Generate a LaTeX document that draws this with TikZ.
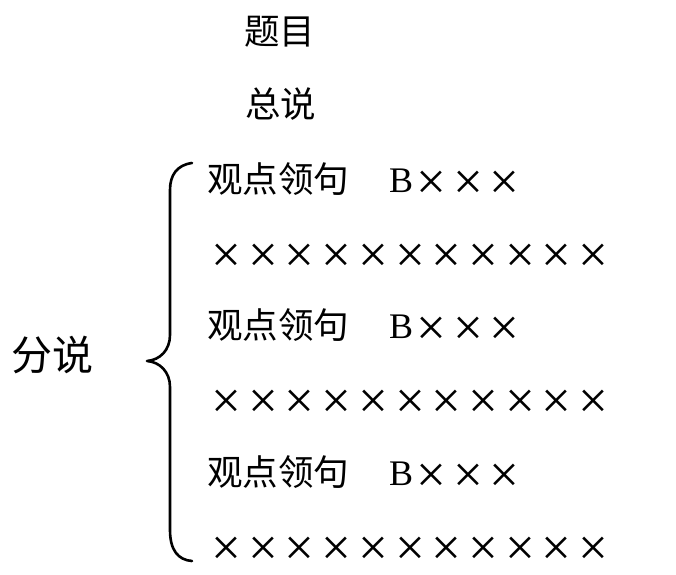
\documentclass[tikz,border=0pt]{standalone}
\usepackage{fontspec}
\setmainfont{Liberation Serif}
\newfontfamily\cjk{Noto Sans CJK SC}
\newcommand\xglyph{\raisebox{-7pt}[22pt][0pt]{\fontsize{53pt}{58pt}\selectfont ×}}
\newcommand\xx{\makebox[36.7pt]{\xglyph}}
\newcommand\xrow{\xx\xx\xx\xx\xx\xx\xx\xx\xx\xx\xx}
\begin{document}
\begin{tikzpicture}[x=1pt,y=-1pt,
  cjktxt/.style={inner sep=0pt, anchor=base west, font=\cjk\fontsize{35.5pt}{40pt}\selectfont},
  bigcjk/.style={inner sep=0pt, anchor=base west, font=\cjk\fontsize{41pt}{46pt}\selectfont},
  xtxt/.style={inner sep=0pt, anchor=base west, font=\fontsize{36pt}{40pt}\selectfont},
  bracepath/.style={line width=2.6pt, line cap=round, line join=round}]
\useasboundingbox (0,0) rectangle (676,574);
\node[cjktxt] (title) at (244,44) {题目};
\node[cjktxt] (intro) at (245,117) {总说};
\node[bigcjk] (fen) at (11,370) {分说};
\node[cjktxt] (h1) at (207,192) {观点领句};
\node[xtxt] (b1) at (389,192) {B\xx\xx\xx};
\node[xtxt] (r1) at (208,265) {\xrow};
\node[cjktxt] (h2) at (207,338) {观点领句};
\node[xtxt] (b2) at (389,338) {B\xx\xx\xx};
\node[xtxt] (r2) at (208,411) {\xrow};
\node[cjktxt] (h3) at (207,485) {观点领句};
\node[xtxt] (b3) at (389,485) {B\xx\xx\xx};
\node[xtxt] (r3) at (208,558) {\xrow};
\draw[bracepath] (192,163) .. controls (177,165) and (170,175) .. (170,190)
  -- (170,335) .. controls (170,350) and (160,360) .. (147,361)
  .. controls (160,362) and (170,372) .. (170,387)
  -- (170,530) .. controls (170,550) and (178,560) .. (192,561);
\end{tikzpicture}
\end{document}
